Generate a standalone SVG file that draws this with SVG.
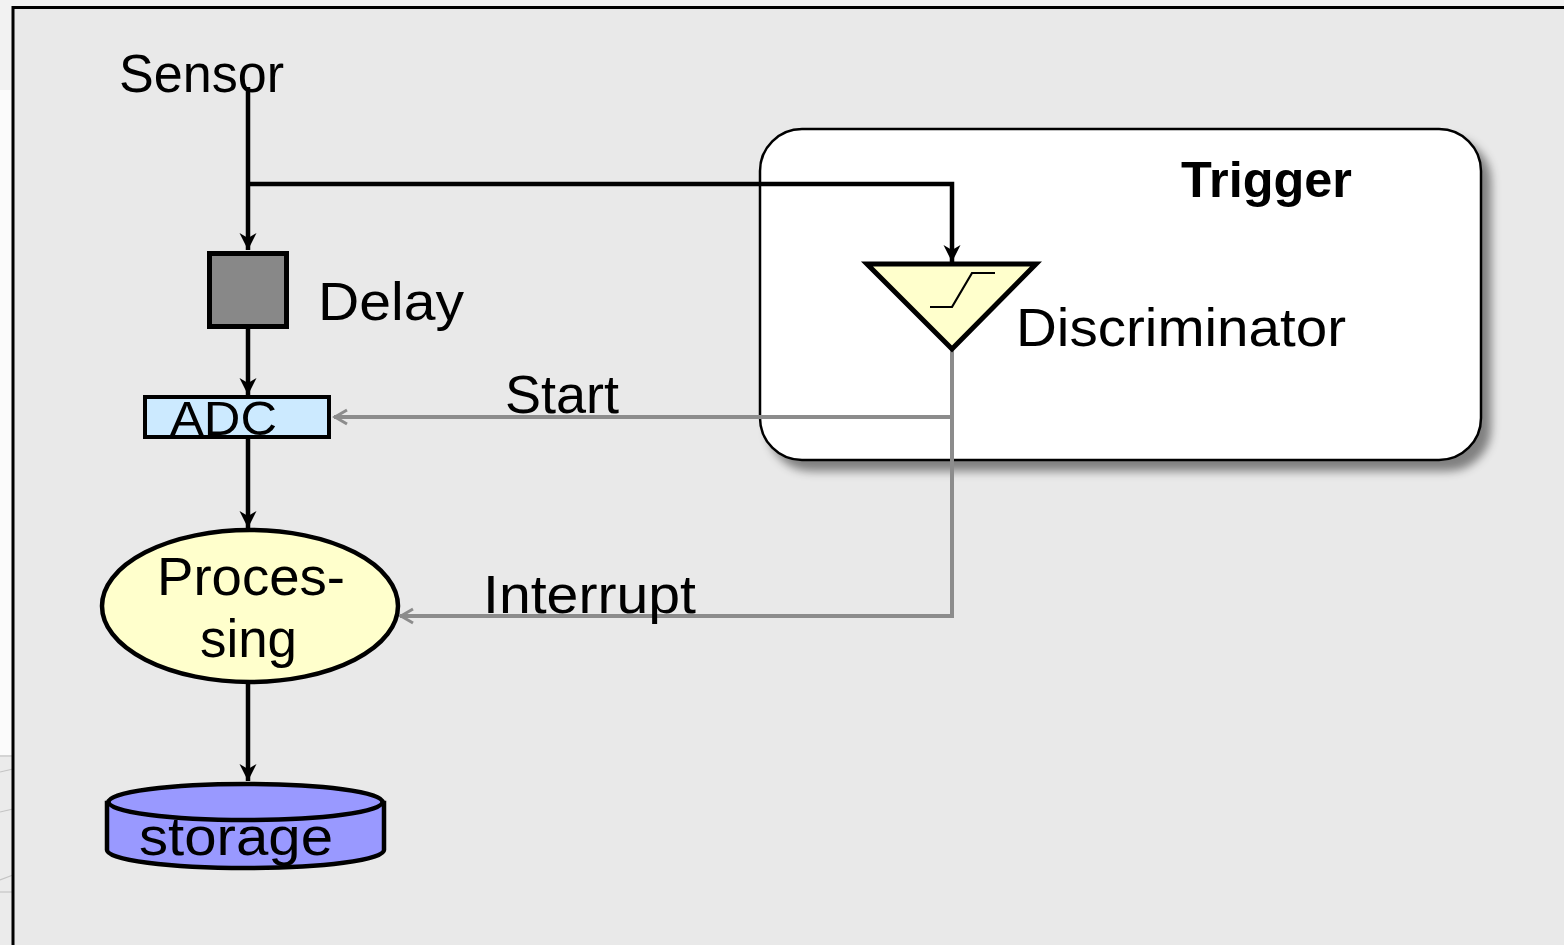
<svg xmlns="http://www.w3.org/2000/svg" width="1564" height="945" viewBox="0 0 1564 945">
<style>
.t{font-family:"Century Gothic","URW Gothic","Liberation Sans",Arial,sans-serif;fill:#000;}
.blk{fill:none;stroke:#000;stroke-width:4.5;}
.gry{fill:none;stroke:#8c8c8c;stroke-width:4;}
</style>
<defs>
<marker id="ab" markerUnits="userSpaceOnUse" markerWidth="22" markerHeight="22" viewBox="-20 -11 22 22" refX="0" refY="0" orient="auto">
<path d="M0,0 L-17,-8.5 L-12,0 L-17,8.5 Z" fill="#000"/>
</marker>
<marker id="ag" markerUnits="userSpaceOnUse" markerWidth="20" markerHeight="20" viewBox="-18 -10 20 20" refX="0" refY="0" orient="auto">
<path d="M-13,-7 L-1,0 L-13,7" fill="none" stroke="#8c8c8c" stroke-width="3"/>
</marker>
<filter id="sh" x="-10%" y="-10%" width="130%" height="130%">
<feDropShadow dx="9" dy="10" stdDeviation="5" flood-color="#000" flood-opacity="0.45"/>
</filter>
</defs>

<rect x="0" y="0" width="1564" height="945" fill="#f2f2f2"/>
<rect x="0" y="90" width="13" height="665" fill="#fbfbfb"/>
<rect x="0" y="755" width="13" height="190" fill="#ebebeb"/>
<g stroke="#c4c4c4" stroke-width="1.2" fill="none">
<line x1="0" y1="756" x2="13" y2="756"/>
<line x1="0" y1="772" x2="13" y2="769"/>
<line x1="0" y1="812" x2="13" y2="809"/>
<line x1="0" y1="880" x2="13" y2="875"/>
<line x1="0" y1="892" x2="13" y2="892"/>
</g>
<rect x="13" y="7.5" width="1600" height="1000" fill="#e9e9e9" stroke="#000" stroke-width="3"/>

<g id="trigger">
<rect x="760" y="129" width="721" height="331" rx="42" ry="42" fill="#fff" stroke="#000" stroke-width="2.5" filter="url(#sh)"/>
<text class="t" x="1181" y="197" font-size="50" font-weight="bold" textLength="171" lengthAdjust="spacingAndGlyphs">Trigger</text>
</g>

<g id="connectors">
<path class="blk" d="M248,87 V250" marker-end="url(#ab)"/>
<path class="blk" d="M248,184 H952 V262" marker-end="url(#ab)"/>
<path class="blk" d="M248,329 V395" marker-end="url(#ab)"/>
<path class="blk" d="M248,439 V528" marker-end="url(#ab)"/>
<path class="blk" d="M248,684 V781" marker-end="url(#ab)"/>
<path class="gry" d="M952,350 V417 H334" marker-end="url(#ag)"/>
<path class="gry" d="M952,417 V616 H400" marker-end="url(#ag)"/>
<text class="t" x="505" y="413" font-size="53" textLength="114" lengthAdjust="spacingAndGlyphs">Start</text>
<text class="t" x="483" y="613" font-size="53" textLength="213" lengthAdjust="spacingAndGlyphs">Interrupt</text>
</g>

<g id="sensor">
<text class="t" x="119" y="92" font-size="53" textLength="165" lengthAdjust="spacingAndGlyphs">Sensor</text>
</g>

<g id="delay">
<rect x="209.5" y="253.5" width="77" height="73" fill="#888" stroke="#000" stroke-width="5"/>
<text class="t" x="318" y="320" font-size="53" textLength="146" lengthAdjust="spacingAndGlyphs">Delay</text>
</g>

<g id="adc">
<rect x="145" y="397" width="184" height="40" fill="#cceaff" stroke="#000" stroke-width="4"/>
<text class="t" x="170" y="435" font-size="48" textLength="107" lengthAdjust="spacingAndGlyphs">ADC</text>
</g>

<g id="discriminator">
<polygon points="867,264 1036,264 952,349" fill="#ffffcc" stroke="#000" stroke-width="5" stroke-linejoin="miter"/>
<polyline points="930,307 952,307 972,273 995,273" fill="none" stroke="#000" stroke-width="2.2"/>
<text class="t" x="1016" y="346" font-size="53" textLength="330" lengthAdjust="spacingAndGlyphs">Discriminator</text>
</g>

<g id="processing">
<ellipse cx="250" cy="606" rx="148" ry="76" fill="#ffffcc" stroke="#000" stroke-width="4.5"/>
<text class="t" x="157" y="595" font-size="53" textLength="188" lengthAdjust="spacingAndGlyphs">Proces-</text>
<text class="t" x="200" y="657" font-size="53" textLength="97" lengthAdjust="spacingAndGlyphs">sing</text>
</g>

<g id="storage">
<path d="M107,803 V850 A138,18 0 0 0 384,850 V803 Z" fill="#9999ff" stroke="#000" stroke-width="4.5"/>
<ellipse cx="245.5" cy="802" rx="137" ry="18" fill="#9999ff" stroke="#000" stroke-width="4.5"/>
<text class="t" x="139" y="855" font-size="53" textLength="194" lengthAdjust="spacingAndGlyphs">storage</text>
</g>
</svg>
